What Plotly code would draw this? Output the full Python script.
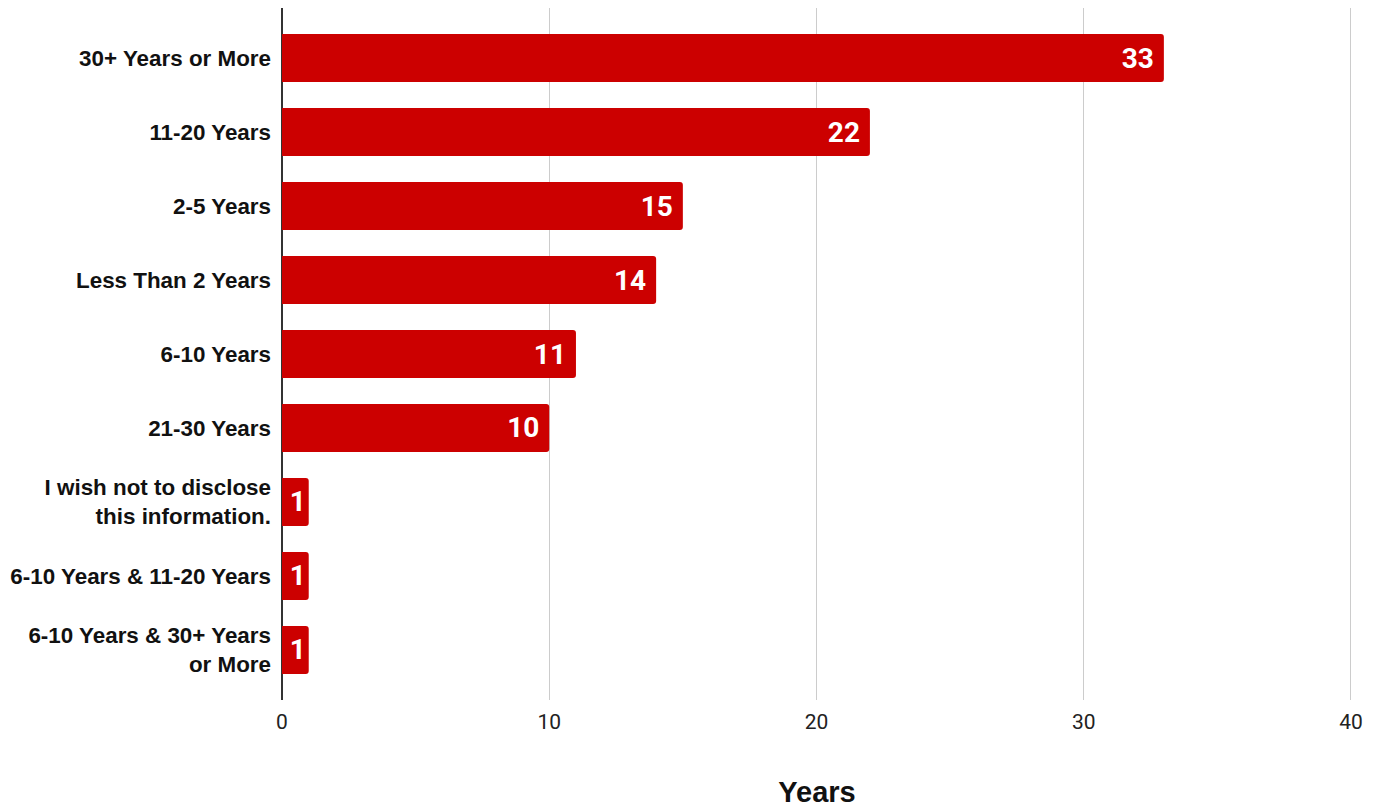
import plotly.graph_objects as go

categories = [
    "30+ Years or More",
    "11-20 Years",
    "2-5 Years",
    "Less Than 2 Years",
    "6-10 Years",
    "21-30 Years",
    "I wish not to disclose<br>this information.",
    "6-10 Years & 11-20 Years",
    "6-10 Years & 30+ Years<br>or More",
]
values = [33, 22, 15, 14, 11, 10, 1, 1, 1]
x_ticks = [0, 10, 20, 30, 40]

cats_plot = categories[::-1]
vals_plot = values[::-1]
# trailing padding inside wide bars; narrow bars keep the number centred
templates = ["%{x}\u00a0" if v >= 3 else "%{x}" for v in vals_plot]

fig = go.Figure(
    go.Bar(
        x=vals_plot,
        y=cats_plot,
        orientation="h",
        marker=dict(color="#cc0000", cornerradius=3, line=dict(width=0)),
        width=0.65,
        texttemplate=templates,
        textposition="inside",
        insidetextanchor="end",
        textangle=0,
        textfont=dict(family="Roboto", size=28, color="white", weight="bold"),
        cliponaxis=False,
        hoverinfo="x+y",
    )
)

fig.update_layout(
    width=1372,
    height=801,
    margin=dict(l=274, r=28, t=0, b=109),
    plot_bgcolor="white",
    paper_bgcolor="white",
    showlegend=False,
    uniformtext=dict(minsize=28, mode="show"),
    xaxis=dict(
        range=[0, 40.04],
        tickvals=x_ticks,
        showgrid=True,
        gridcolor="#cccccc",
        gridwidth=1,
        zeroline=True,
        zerolinecolor="#333333",
        zerolinewidth=1.5,
        tickfont=dict(family="Roboto", size=21, color="#222222"),
        ticks="",
        ticklabelstandoff=7,
        title=dict(
            text="Years",
            font=dict(family="Liberation Sans", size=29, color="#111111", weight="bold"),
            standoff=48,
        ),
        fixedrange=True,
    ),
    yaxis=dict(
        range=[-0.676, 8.676],
        showgrid=False,
        ticks="",
        ticklabelstandoff=10,
        tickfont=dict(family="Liberation Sans", size=22.4, color="#111111", weight="bold"),
        fixedrange=True,
    ),
)

fig.write_html("out.html")
